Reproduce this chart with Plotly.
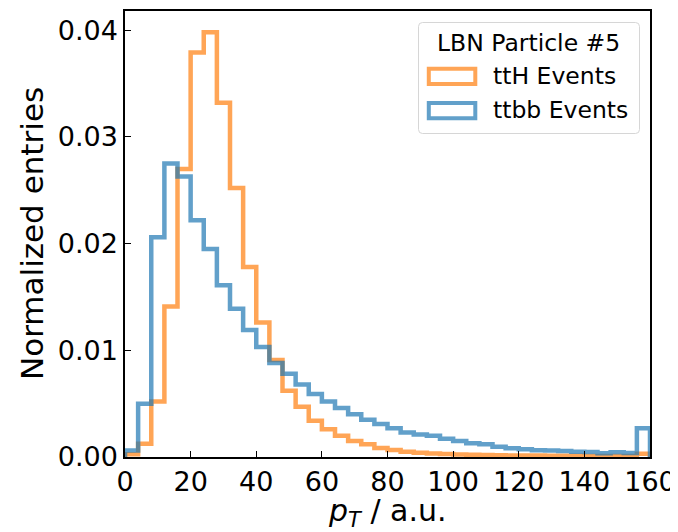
import numpy as np
import plotly.graph_objects as go

# ---- data ----
bin_edges = list(range(0, 164, 4))  # 0..160, width 4
tth_values = [0.00025, 0.00125, 0.0052, 0.0141, 0.0270, 0.0379, 0.0398, 0.0332,
              0.0252, 0.0178, 0.0126, 0.0091, 0.0062, 0.0047, 0.0034, 0.0026,
              0.0020, 0.0015, 0.0012, 0.00085, 0.00065, 0.0005, 0.0004, 0.00033,
              0.00028, 0.00024, 0.0002, 0.00018, 0.00016, 0.00015, 0.00014, 0.00013,
              0.00012, 0.00012, 0.00011, 0.0001, 0.0001, 0.0001, 0.0001, 0.0003]
ttbb_values = [0.0006, 0.0050, 0.0206, 0.0275, 0.0263, 0.0222, 0.0195, 0.0161,
               0.0139, 0.0119, 0.0103, 0.0088, 0.0078, 0.0068, 0.0059, 0.0052,
               0.0046, 0.0040, 0.0035, 0.0031, 0.0027, 0.0023, 0.0021, 0.0020,
               0.0017, 0.0015, 0.0013, 0.0012, 0.00095, 0.00082, 0.00072, 0.00064,
               0.0006, 0.00056, 0.0005, 0.00047, 0.00036, 0.00044, 0.00038, 0.0027]
series_names = ["ttH Events", "ttbb Events"]
legend_title = "LBN Particle #5"
x_title = "<i>p</i><sub><i>T</i></sub> / a.u."
y_title = "Normalized entries"
x_ticks = [0, 20, 40, 60, 80, 100, 120, 140, 160]
y_ticks = [0.00, 0.01, 0.02, 0.03, 0.04]

ORANGE = "rgba(255,127,14,0.7)"
BLUE = "rgba(31,119,180,0.7)"
FONT = "DejaVu Sans"

# page has an 8px body margin: compensate so the plot lands where the reference has it
OFF = 8
W, H = 678 - OFF, 532 - OFF
PL, PR, PT, PB = 125, 650, 11, 457          # plot area in page pixels
ML, MR, MT, MB = PL - OFF, 678 - PR, PT - OFF, 532 - PB
PW, PH = PR - PL, PB - PT


def px(X):
    return (X - PL) / PW


def py(Y):
    return (PB - Y) / PH


def step_xy(edges, vals):
    xs = [edges[0]] + list(edges[:-1]) + [edges[-1]]
    ys = [0] + list(vals) + [0]
    return xs, ys


fig = go.Figure()
for vals, color, name in [(tth_values, ORANGE, series_names[0]),
                          (ttbb_values, BLUE, series_names[1])]:
    xs, ys = step_xy(bin_edges, vals)
    fig.add_trace(go.Scatter(x=xs, y=ys, mode="lines", line=dict(color=color, width=4.5, shape="hv"),
                             name=name, showlegend=False, cliponaxis=True))

# ---- manual matplotlib-like legend ----
bx0, bx1, by0, by1 = 418.5, 639.5, 22.5, 133.5
r = 4
path = (f"M {px(bx0 + r)},{py(by0)} L {px(bx1 - r)},{py(by0)} "
        f"Q {px(bx1)},{py(by0)} {px(bx1)},{py(by0 + r)} "
        f"L {px(bx1)},{py(by1 - r)} Q {px(bx1)},{py(by1)} {px(bx1 - r)},{py(by1)} "
        f"L {px(bx0 + r)},{py(by1)} Q {px(bx0)},{py(by1)} {px(bx0)},{py(by1 - r)} "
        f"L {px(bx0)},{py(by0 + r)} Q {px(bx0)},{py(by0)} {px(bx0 + r)},{py(by0)} Z")
shapes = [dict(type="path", xref="paper", yref="paper", path=path,
               fillcolor="rgba(255,255,255,0.8)", line=dict(color="#d6d6d6", width=1))]
annotations = [dict(text=legend_title, x=px(528.5), y=py(42.5), xref="paper", yref="paper",
                    showarrow=False, xanchor="center", yanchor="middle",
                    font=dict(family=FONT, size=23.5, color="black"))]
for i, (name, color) in enumerate(zip(series_names, [ORANGE, BLUE])):
    cy0 = 68.7 + i * 34.3
    shapes.append(dict(type="rect", xref="paper", yref="paper",
                       x0=px(428.8), x1=px(475.3), y0=py(cy0), y1=py(cy0 + 15.2),
                       line=dict(color=color, width=4), fillcolor="rgba(0,0,0,0)"))
    annotations.append(dict(text=name, x=px(491), y=py(cy0 + 7.4), xref="paper", yref="paper",
                            showarrow=False, xanchor="left", yanchor="middle",
                            font=dict(family=FONT, size=23.5, color="black")))

# axis titles
annotations.append(dict(text=x_title, x=0.5, y=py(513), xref="paper", yref="paper",
                        showarrow=False, xanchor="center", yanchor="middle",
                        font=dict(family=FONT, size=30, color="black")))
annotations.append(dict(text=y_title, x=px(32), y=py(234), xref="paper", yref="paper",
                        showarrow=False, xanchor="center", yanchor="middle", textangle=-90,
                        font=dict(family=FONT, size=31, color="black")))

fig.update_layout(
    width=W, height=H,
    margin=dict(l=ML, r=MR, t=MT, b=MB, pad=0),
    paper_bgcolor="white", plot_bgcolor="white",
    font=dict(family=FONT, color="black"),
    shapes=shapes, annotations=annotations,
    showlegend=False,
)
fig.update_xaxes(range=[0, 160], tickvals=x_ticks, ticktext=[str(v) for v in x_ticks],
                 automargin=False,
                 showgrid=False, zeroline=False, showline=True, linecolor="black", linewidth=1.5,
                 mirror=True, ticks="inside", ticklen=6, tickwidth=1.2, tickcolor="black",
                 tickfont=dict(family=FONT, size=27, color="black"))
fig.update_yaxes(range=[0, 0.0418], tickvals=y_ticks, ticktext=[f"{v:.2f}" for v in y_ticks],
                 automargin=False,
                 showgrid=False, zeroline=False, showline=True, linecolor="black", linewidth=1.5,
                 mirror=True, ticks="inside", ticklen=6, tickwidth=1.2, tickcolor="black",
                 tickfont=dict(family=FONT, size=27, color="black"))

fig.write_html("out.html")
